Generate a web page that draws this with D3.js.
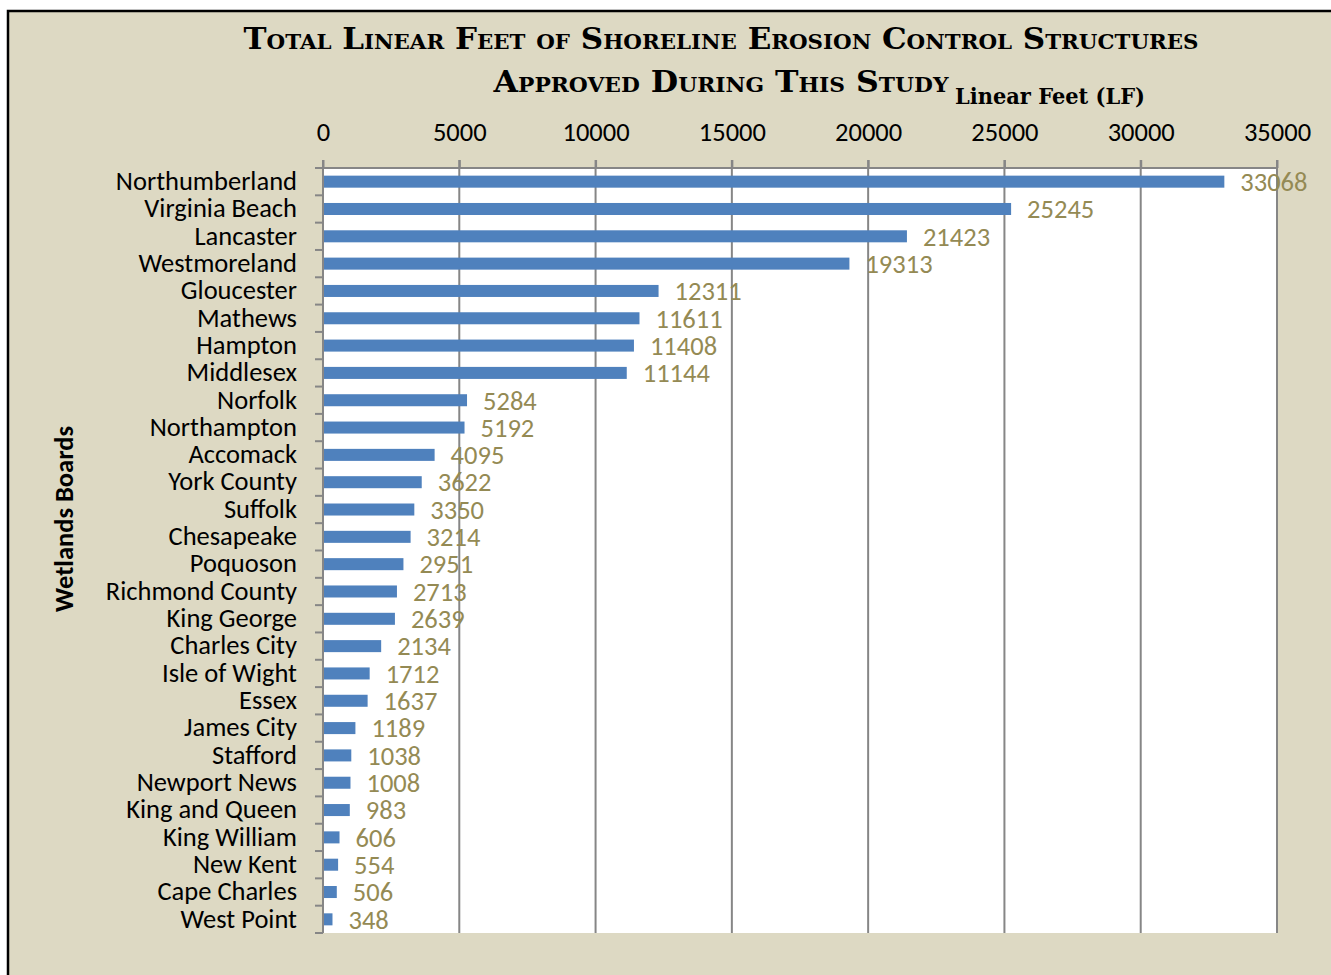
<!DOCTYPE html>
<html>
<head>
<meta charset="utf-8">
<style>
  body { margin: 0; background: #fff; }
  .tick text, .cat, .val { font-family: Carlito, Lato, "Open Sans", sans-serif; }
  .title { font-family: "DejaVu Serif", serif; font-weight: bold; font-variant: small-caps; }
</style>
</head>
<body>
<script src="https://cdn.jsdelivr.net/npm/d3@7"></script>
<script>
var boards = ["Northumberland", "Virginia Beach", "Lancaster", "Westmoreland", "Gloucester",
  "Mathews", "Hampton", "Middlesex", "Norfolk", "Northampton", "Accomack", "York County",
  "Suffolk", "Chesapeake", "Poquoson", "Richmond County", "King George", "Charles City",
  "Isle of Wight", "Essex", "James City", "Stafford", "Newport News", "King and Queen",
  "King William", "New Kent", "Cape Charles", "West Point"];
var linearFeet = [33068, 25245, 21423, 19313, 12311, 11611, 11408, 11144, 5284, 5192, 4095,
  3622, 3350, 3214, 2951, 2713, 2639, 2134, 1712, 1637, 1189, 1038, 1008, 983, 606, 554, 506, 348];
var xTicks = [0, 5000, 10000, 15000, 20000, 25000, 30000, 35000];

var width = 1331, height = 975;
var plotL = 323, plotR = 1277, plotT = 168, plotB = 933;
var fs = 26.5;

var svg = d3.select("body").append("svg")
  .attr("width", width)
  .attr("height", height);

// background and frame
svg.append("rect")
  .attr("x", 8).attr("y", 11)
  .attr("width", width + 10).attr("height", height + 10)
  .attr("fill", "#ddd9c3")
  .attr("stroke", "#000").attr("stroke-width", 2.5);

svg.append("rect")
  .attr("x", plotL).attr("y", plotT)
  .attr("width", plotR - plotL).attr("height", plotB - plotT)
  .attr("fill", "#fff");

var x = d3.scaleLinear().domain([0, 35000]).range([plotL, plotR]);
var y = d3.scaleBand().domain(boards).range([plotT, plotB]).paddingInner(0.56).paddingOuter(0.28);

// vertical gridlines
svg.append("g").selectAll("line")
  .data(xTicks)
  .enter().append("line")
  .attr("x1", d => x(d)).attr("x2", d => x(d))
  .attr("y1", plotT - 8).attr("y2", plotB)
  .attr("stroke", "#868686").attr("stroke-width", 2);

// top axis
var xAxis = svg.append("g")
  .attr("transform", "translate(0," + plotT + ")")
  .call(d3.axisTop(x).tickValues(xTicks).tickFormat(d3.format("d")).tickSize(8).tickPadding(19));
xAxis.select(".domain").attr("stroke", "#868686").attr("stroke-width", 2)
  .attr("d", "M" + (plotL - 8) + ",0H" + plotR);
xAxis.selectAll(".tick line").attr("stroke", "#868686").attr("stroke-width", 2);
xAxis.selectAll(".tick text").attr("font-size", fs).attr("fill", "#000");

// left axis line with ticks at band boundaries
svg.append("line")
  .attr("x1", plotL).attr("x2", plotL).attr("y1", plotT - 8).attr("y2", plotB)
  .attr("stroke", "#868686").attr("stroke-width", 2);
svg.append("g").selectAll("line")
  .data(d3.range(boards.length + 1))
  .enter().append("line")
  .attr("x1", plotL - 8).attr("x2", plotL)
  .attr("y1", i => plotT + i * (plotB - plotT) / boards.length)
  .attr("y2", i => plotT + i * (plotB - plotT) / boards.length)
  .attr("stroke", "#868686").attr("stroke-width", 2);

// bars
svg.append("g").selectAll("rect")
  .data(boards)
  .enter().append("rect")
  .attr("x", plotL + 1)
  .attr("y", d => y(d))
  .attr("width", (d, i) => x(linearFeet[i]) - plotL - 1)
  .attr("height", y.bandwidth())
  .attr("fill", "#4f81bd");

// category labels
svg.append("g").selectAll("text")
  .data(boards)
  .enter().append("text")
  .attr("class", "cat")
  .attr("x", 297)
  .attr("y", d => y(d) + y.bandwidth() / 2 - 1)
  .attr("dy", "0.35em")
  .attr("text-anchor", "end")
  .attr("font-size", fs)
  .attr("fill", "#000")
  .text(d => d);

// value labels
svg.append("g").selectAll("text")
  .data(boards)
  .enter().append("text")
  .attr("class", "val")
  .attr("x", (d, i) => x(linearFeet[i]) + 16)
  .attr("y", d => y(d) + y.bandwidth() / 2)
  .attr("dy", "0.35em")
  .attr("font-size", fs)
  .attr("fill", "#948a54")
  .text((d, i) => linearFeet[i]);

// titles
svg.append("text").attr("class", "title")
  .attr("x", 721).attr("y", 49)
  .attr("text-anchor", "middle").attr("font-size", 29)
  .attr("textLength", 955).attr("lengthAdjust", "spacingAndGlyphs")
  .text("Total Linear Feet of Shoreline Erosion Control Structures");
svg.append("text").attr("class", "title")
  .attr("x", 721).attr("y", 92)
  .attr("text-anchor", "middle").attr("font-size", 29)
  .attr("textLength", 455).attr("lengthAdjust", "spacingAndGlyphs")
  .text("Approved During This Study");
svg.append("text")
  .attr("x", 1050).attr("y", 104)
  .attr("text-anchor", "middle")
  .attr("font-family", "'DejaVu Serif', serif").attr("font-weight", "bold").attr("font-size", 23)
  .attr("textLength", 190).attr("lengthAdjust", "spacingAndGlyphs")
  .text("Linear Feet (LF)");
svg.append("text")
  .attr("transform", "translate(73,519) rotate(-90)")
  .attr("text-anchor", "middle")
  .attr("font-family", "Carlito, Lato, 'Open Sans', sans-serif").attr("font-weight", "bold").attr("font-size", 26.5)
  .text("Wetlands Boards");
</script>
</body>
</html>
